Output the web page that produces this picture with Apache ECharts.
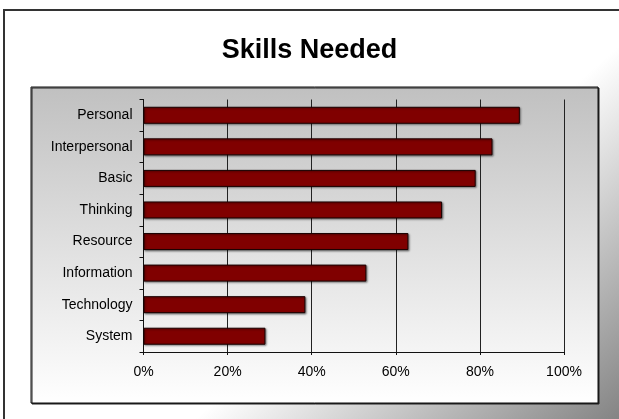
<!DOCTYPE html>
<html>
<head>
<meta charset="utf-8">
<script src="https://cdn.jsdelivr.net/npm/echarts@6/dist/echarts.min.js"></script>
<style>
  html, body { margin: 0; padding: 0; background: #fff; }
  #chart { width: 619px; height: 419px; }
</style>
</head>
<body>
<div id="chart"></div>
<script>
// skills, top to bottom as in the picture
var skillNames = ['Personal', 'Interpersonal', 'Basic', 'Thinking', 'Resource', 'Information', 'Technology', 'System'];
var skillValues = [89.5, 83, 79, 71, 63, 53, 38.5, 29];
var percentTicks = [0, 20, 40, 60, 80, 100];

var font = 'Liberation Sans, Arial, sans-serif';
var chart = echarts.init(document.getElementById('chart'));

var option = {
    animation: false,
    textStyle: { fontFamily: font },
    title: {
        text: 'Skills Needed',
        left: 'center',
        top: 32,
        textStyle: { fontSize: 27, fontWeight: 'bold', color: '#000', fontFamily: font }
    },
    graphic: [
        {
            // outer frame, fading to grey in the lower right corner
            type: 'rect',
            z: -10,
            shape: { x: 4, y: 10, width: 700, height: 500 },
            style: {
                fill: new echarts.graphic.LinearGradient(293, 333, 484, 550, [
                    { offset: 0, color: '#ffffff' },
                    { offset: 1, color: '#808080' }
                ], true),
                stroke: '#333',
                lineWidth: 2
            }
        },
        {
            // plot box
            type: 'rect',
            z: -9,
            shape: { x: 31, y: 87, width: 567, height: 316 },
            style: {
                fill: new echarts.graphic.LinearGradient(0, 0, 0, 1, [
                    { offset: 0, color: '#c0c0c0' },
                    { offset: 1, color: '#ffffff' }
                ]),
                stroke: '#111',
                lineWidth: 1,
                shadowColor: '#222',
                shadowOffsetX: 1,
                shadowOffsetY: 1
            }
        }
    ],
    grid: {
        left: 143.5,
        right: 55,
        top: 99.5,
        bottom: 67,
        containLabel: false
    },
    xAxis: {
        type: 'value',
        min: percentTicks[0],
        max: percentTicks[percentTicks.length - 1],
        interval: percentTicks[1] - percentTicks[0],
        axisLine: { show: true, lineStyle: { color: '#111', width: 1 } },
        axisTick: { show: true, length: 3, lineStyle: { color: '#111' } },
        splitLine: { show: true, lineStyle: { color: '#222', width: 1 } },
        axisLabel: {
            formatter: '{value}%',
            fontSize: 14,
            color: '#000',
            margin: 13,
            fontFamily: font
        }
    },
    yAxis: {
        type: 'category',
        inverse: true,
        data: skillNames,
        axisLine: { show: true, lineStyle: { color: '#111', width: 1 } },
        axisTick: { show: true, length: 4, lineStyle: { color: '#111' } },
        axisLabel: { fontSize: 14, color: '#000', margin: 11, fontFamily: font },
        splitLine: { show: false }
    },
    series: [
        {
            type: 'bar',
            data: skillValues,
            barWidth: 17,
            itemStyle: {
                color: '#800000',
                borderColor: '#1a0000',
                borderWidth: 1,
                shadowColor: 'rgba(0,0,0,0.45)',
                shadowBlur: 2,
                shadowOffsetX: 1,
                shadowOffsetY: 1
            }
        }
    ]
};

chart.setOption(option);
</script>
</body>
</html>
